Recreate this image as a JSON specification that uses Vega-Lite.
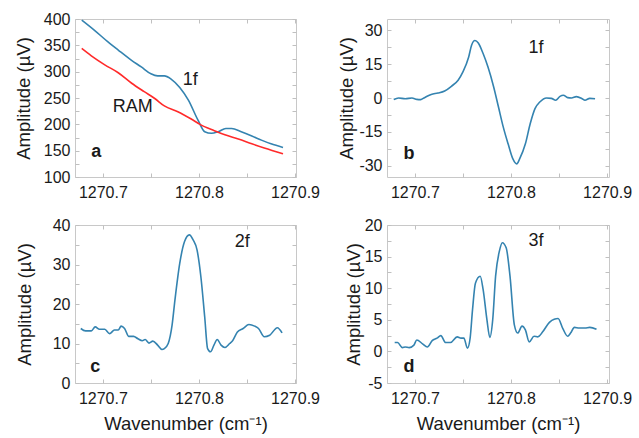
{
  "$schema": "https://vega.github.io/schema/vega-lite/v6.json",
  "padding": {"left": 13, "top": 10, "right": 5, "bottom": 5},
  "background": "white",
  "config": {
    "view": {"stroke": "#c8c8c8", "strokeWidth": 1},
    "axis": {"domain": false, "grid": false, "tickColor": "#c0c0c0", "tickSize": -4, "tickWidth": 1,
      "labelFont": "Liberation Sans", "labelFontSize": 16, "labelColor": "#1a1a1a", "labelOverlap": false, "labelFlush": false,
      "titleFont": "Liberation Sans", "titleFontSize": 18.5, "titleFontWeight": "normal", "titleColor": "#1a1a1a"},
    "axisY": {"titlePadding": 10, "labelPadding": 9},
    "axisX": {"titlePadding": 8, "labelPadding": 11},
    "text": {"font": "Liberation Sans", "fontSize": 18, "color": "#1a1a1a"},
    "line": {"strokeWidth": 1.6, "interpolate": "monotone"}
  },
  "columns": 2,
  "spacing": {"row": 48, "column": 91},
  "bounds": "flush",
  "concat": [
      {"width": 221, "height": 158,
       "layer": [
        {"data": {"values": [
          {"s":"1f","x":1270.678,"y":398},{"s":"1f","x":1270.691,"y":379},{"s":"1f","x":1270.705,"y":357},{"s":"1f","x":1270.716,"y":341},{"s":"1f","x":1270.7295,"y":322},{"s":"1f","x":1270.740,"y":309},{"s":"1f","x":1270.750,"y":296},{"s":"1f","x":1270.757,"y":292},{"s":"1f","x":1270.764,"y":292},{"s":"1f","x":1270.771,"y":286},{"s":"1f","x":1270.780,"y":270},{"s":"1f","x":1270.789,"y":246},{"s":"1f","x":1270.799,"y":208},{"s":"1f","x":1270.806,"y":186},{"s":"1f","x":1270.813,"y":183},{"s":"1f","x":1270.820,"y":186},{"s":"1f","x":1270.828,"y":192},{"s":"1f","x":1270.834,"y":192},{"s":"1f","x":1270.844,"y":186},{"s":"1f","x":1270.855,"y":178},{"s":"1f","x":1270.865,"y":170},{"s":"1f","x":1270.875,"y":163},{"s":"1f","x":1270.8875,"y":156},
          {"s":"RAM","x":1270.678,"y":344},{"s":"RAM","x":1270.688,"y":330},{"s":"RAM","x":1270.702,"y":313},{"s":"RAM","x":1270.716,"y":298},{"s":"RAM","x":1270.730,"y":278},{"s":"RAM","x":1270.743,"y":262},{"s":"RAM","x":1270.754,"y":249},{"s":"RAM","x":1270.764,"y":235},{"s":"RAM","x":1270.778,"y":224},{"s":"RAM","x":1270.792,"y":210},{"s":"RAM","x":1270.802,"y":199},{"s":"RAM","x":1270.816,"y":188},{"s":"RAM","x":1270.827,"y":180},{"s":"RAM","x":1270.841,"y":172},{"s":"RAM","x":1270.855,"y":163},{"s":"RAM","x":1270.868,"y":155},{"s":"RAM","x":1270.8875,"y":144}
         ]},
         "mark": "line",
         "encoding": {
          "x": {"field": "x", "type": "quantitative", "scale": {"domain": [1270.671, 1270.901], "nice": false, "zero": false},
                "axis": {"values": [1270.7,1270.75,1270.8,1270.85,1270.9], "labelExpr": "abs(datum.value*10 - round(datum.value*10)) < 0.01 ? format(datum.value, '.1f') : ''", "title": null}},
          "y": {"field": "y", "type": "quantitative", "scale": {"domain": [100, 400], "nice": false, "zero": false},
                "axis": {"values": [100,125,150,175,200,225,250,275,300,325,350,375,400], "labelExpr": "datum.value % 50 == 0 ? toString(datum.value) : ''", "title": "Amplitude (µV)"}},
          "color": {"field": "s", "type": "nominal", "scale": {"domain": ["1f","RAM"], "range": ["#3483b0", "#ff2a2a"]}, "legend": null}
         }},
        {"data": {"values": [{"x":1270.791,"y":284,"t":"1f"},{"x":1270.731,"y":233,"t":"RAM"}]},
         "mark": {"type": "text", "baseline": "middle", "align": "center"},
         "encoding": {"x": {"field": "x", "type": "quantitative", "axis": {"orient": "top", "labels": false, "title": null, "values": [1270.7,1270.75,1270.8,1270.85,1270.9]}},
                      "y": {"field": "y", "type": "quantitative", "axis": {"orient": "right", "labels": false, "title": null, "values": [100,125,150,175,200,225,250,275,300,325,350,375,400]}},
                      "text": {"field": "t"}}},
        {"data": {"values": [{"x":1270.693,"y":147,"t":"a"}]},
         "mark": {"type": "text", "baseline": "middle", "align": "center", "fontWeight": "bold"},
         "encoding": {"x": {"field": "x", "type": "quantitative", "axis": null}, "y": {"field": "y", "type": "quantitative", "axis": null}, "text": {"field": "t"}}}
       ],
       "resolve": {"axis": {"x": "independent", "y": "independent"}}
      },
      {"width": 222, "height": 158,
       "layer": [
        {"data": {"values": [
          {"x":1270.678,"y":-0.7},{"x":1270.683,"y":0},{"x":1270.690,"y":-0.3},{"x":1270.697,"y":0},{"x":1270.702,"y":-0.6},{"x":1270.706,"y":-0.7},{"x":1270.710,"y":0.15},{"x":1270.717,"y":1.6},{"x":1270.724,"y":2.2},{"x":1270.731,"y":3.1},{"x":1270.738,"y":5.2},{"x":1270.745,"y":7.9},{"x":1270.750,"y":11.6},{"x":1270.756,"y":18.2},{"x":1270.759,"y":23.4},{"x":1270.7625,"y":25.5},{"x":1270.766,"y":24.4},{"x":1270.771,"y":19.7},{"x":1270.776,"y":13.8},{"x":1270.782,"y":4.9},{"x":1270.787,"y":-4.0},{"x":1270.792,"y":-12.9},{"x":1270.797,"y":-20.3},{"x":1270.802,"y":-27},{"x":1270.806,"y":-29.2},{"x":1270.809,"y":-27},{"x":1270.815,"y":-20.3},{"x":1270.820,"y":-11.4},{"x":1270.825,"y":-4.7},{"x":1270.830,"y":-1.8},{"x":1270.837,"y":0},{"x":1270.842,"y":-0.15},{"x":1270.8465,"y":-1.0},{"x":1270.851,"y":0.74},{"x":1270.8545,"y":1.2},{"x":1270.859,"y":0.15},{"x":1270.863,"y":0},{"x":1270.868,"y":0.6},{"x":1270.874,"y":-0.3},{"x":1270.877,"y":-1.0},{"x":1270.882,"y":-0.15},{"x":1270.8875,"y":-0.3}
         ]},
         "mark": {"type": "line", "color": "#3483b0"},
         "encoding": {
          "x": {"field": "x", "type": "quantitative", "scale": {"domain": [1270.671, 1270.902], "nice": false, "zero": false},
                "axis": {"values": [1270.7,1270.75,1270.8,1270.85,1270.9], "labelExpr": "abs(datum.value*10 - round(datum.value*10)) < 0.01 ? format(datum.value, '.1f') : ''", "title": null}},
          "y": {"field": "y", "type": "quantitative", "scale": {"domain": [-35, 35], "nice": false, "zero": false},
                "axis": {"values": [-30,-22.5,-15,-7.5,0,7.5,15,22.5,30], "labelExpr": "datum.value % 15 == 0 ? toString(datum.value) : ''", "title": "Amplitude (µV)", "titlePadding": 2}}
         }},
        {"data": {"values": [{"x":1270.826,"y":22,"t":"1f"}]},
         "mark": {"type": "text", "baseline": "middle", "align": "center"},
         "encoding": {"x": {"field": "x", "type": "quantitative", "axis": {"orient": "top", "labels": false, "title": null, "values": [1270.7,1270.75,1270.8,1270.85,1270.9]}},
                      "y": {"field": "y", "type": "quantitative", "axis": {"orient": "right", "labels": false, "title": null, "values": [-30,-22.5,-15,-7.5,0,7.5,15,22.5,30]}},
                      "text": {"field": "t"}}},
        {"data": {"values": [{"x":1270.694,"y":-25,"t":"b"}]},
         "mark": {"type": "text", "baseline": "middle", "align": "center", "fontWeight": "bold"},
         "encoding": {"x": {"field": "x", "type": "quantitative", "axis": null}, "y": {"field": "y", "type": "quantitative", "axis": null}, "text": {"field": "t"}}}
       ],
       "resolve": {"axis": {"x": "independent", "y": "independent"}}
      },
      {"width": 221, "height": 158,
       "layer": [
        {"data": {"values": [
          {"x":1270.677,"y":13.8},{"x":1270.682,"y":13.2},{"x":1270.688,"y":13.2},{"x":1270.692,"y":14.2},{"x":1270.6965,"y":13.6},{"x":1270.702,"y":13.6},{"x":1270.707,"y":12.5},{"x":1270.712,"y":13.4},{"x":1270.716,"y":13.4},{"x":1270.719,"y":14.4},{"x":1270.7226,"y":13.8},{"x":1270.727,"y":11.8},{"x":1270.732,"y":11.8},{"x":1270.7365,"y":11.2},{"x":1270.741,"y":10.7},{"x":1270.744,"y":11.0},{"x":1270.748,"y":10.1},{"x":1270.752,"y":10.6},{"x":1270.757,"y":9.6},{"x":1270.7615,"y":8.5},{"x":1270.764,"y":8.7},{"x":1270.768,"y":10.0},{"x":1270.772,"y":14.6},{"x":1270.775,"y":21.0},{"x":1270.780,"y":30.3},{"x":1270.785,"y":35.8},{"x":1270.790,"y":37.5},{"x":1270.794,"y":36.2},{"x":1270.798,"y":33.7},{"x":1270.802,"y":26.9},{"x":1270.806,"y":16.7},{"x":1270.809,"y":8.7},{"x":1270.812,"y":7.9},{"x":1270.8156,"y":9.6},{"x":1270.819,"y":11.0},{"x":1270.823,"y":9.6},{"x":1270.827,"y":9.0},{"x":1270.832,"y":10.0},{"x":1270.835,"y":10.7},{"x":1270.840,"y":12.9},{"x":1270.846,"y":13.8},{"x":1270.852,"y":14.8},{"x":1270.858,"y":14.4},{"x":1270.862,"y":13.8},{"x":1270.868,"y":11.7},{"x":1270.8736,"y":12.1},{"x":1270.8816,"y":14.0},{"x":1270.8865,"y":12.7}
         ]},
         "mark": {"type": "line", "color": "#3483b0"},
         "encoding": {
          "x": {"field": "x", "type": "quantitative", "scale": {"domain": [1270.671, 1270.901], "nice": false, "zero": false},
                "axis": {"values": [1270.7,1270.75,1270.8,1270.85,1270.9], "labelExpr": "abs(datum.value*10 - round(datum.value*10)) < 0.01 ? format(datum.value, '.1f') : ''", "title": "Wavenumber (cm⁻¹)"}},
          "y": {"field": "y", "type": "quantitative", "scale": {"domain": [0, 40], "nice": false, "zero": false},
                "axis": {"values": [0,5,10,15,20,25,30,35,40], "labelExpr": "datum.value % 10 == 0 ? toString(datum.value) : ''", "title": "Amplitude (µV)", "titlePadding": 18}}
         }},
        {"data": {"values": [{"x":1270.845,"y":35.7,"t":"2f"}]},
         "mark": {"type": "text", "baseline": "middle", "align": "center"},
         "encoding": {"x": {"field": "x", "type": "quantitative", "axis": {"orient": "top", "labels": false, "title": null, "values": [1270.7,1270.75,1270.8,1270.85,1270.9]}},
                      "y": {"field": "y", "type": "quantitative", "axis": {"orient": "right", "labels": false, "title": null, "values": [0,5,10,15,20,25,30,35,40]}},
                      "text": {"field": "t"}}},
        {"data": {"values": [{"x":1270.692,"y":4,"t":"c"}]},
         "mark": {"type": "text", "baseline": "middle", "align": "center", "fontWeight": "bold"},
         "encoding": {"x": {"field": "x", "type": "quantitative", "axis": null}, "y": {"field": "y", "type": "quantitative", "axis": null}, "text": {"field": "t"}}}
       ],
       "resolve": {"axis": {"x": "independent", "y": "independent"}}
      },
      {"width": 222, "height": 158,
       "layer": [
        {"data": {"values": [
          {"x":1270.679,"y":1.4},{"x":1270.682,"y":1.4},{"x":1270.687,"y":0.6},{"x":1270.690,"y":0.7},{"x":1270.694,"y":0.6},{"x":1270.699,"y":1.0},{"x":1270.702,"y":1.8},{"x":1270.708,"y":1.2},{"x":1270.713,"y":0.7},{"x":1270.718,"y":1.7},{"x":1270.723,"y":2.1},{"x":1270.727,"y":2.5},{"x":1270.732,"y":1.4},{"x":1270.737,"y":1.4},{"x":1270.744,"y":2.3},{"x":1270.748,"y":2.1},{"x":1270.751,"y":2.1},{"x":1270.7547,"y":0.5},{"x":1270.7575,"y":2.1},{"x":1270.760,"y":6.6},{"x":1270.763,"y":10.8},{"x":1270.768,"y":11.9},{"x":1270.771,"y":9.8},{"x":1270.775,"y":5.0},{"x":1270.778,"y":2.2},{"x":1270.781,"y":5.0},{"x":1270.784,"y":11.9},{"x":1270.788,"y":15.9},{"x":1270.791,"y":17.2},{"x":1270.795,"y":16.4},{"x":1270.799,"y":11.9},{"x":1270.8035,"y":4.2},{"x":1270.807,"y":2.9},{"x":1270.8115,"y":4.0},{"x":1270.815,"y":3.4},{"x":1270.819,"y":1.5},{"x":1270.824,"y":2.4},{"x":1270.828,"y":2.3},{"x":1270.833,"y":3.1},{"x":1270.840,"y":4.6},{"x":1270.845,"y":5.1},{"x":1270.849,"y":5.2},{"x":1270.854,"y":3.6},{"x":1270.859,"y":2.4},{"x":1270.862,"y":2.9},{"x":1270.866,"y":3.8},{"x":1270.871,"y":3.7},{"x":1270.877,"y":3.7},{"x":1270.882,"y":3.8},{"x":1270.889,"y":3.5}
         ]},
         "mark": {"type": "line", "color": "#3483b0"},
         "encoding": {
          "x": {"field": "x", "type": "quantitative", "scale": {"domain": [1270.671, 1270.902], "nice": false, "zero": false},
                "axis": {"values": [1270.7,1270.75,1270.8,1270.85,1270.9], "labelExpr": "abs(datum.value*10 - round(datum.value*10)) < 0.01 ? format(datum.value, '.1f') : ''", "title": "Wavenumber (cm⁻¹)"}},
          "y": {"field": "y", "type": "quantitative", "scale": {"domain": [-5, 20], "nice": false, "zero": false},
                "axis": {"values": [-5,-2.5,0,2.5,5,7.5,10,12.5,15,17.5,20], "labelExpr": "datum.value % 5 == 0 ? toString(datum.value) : ''", "title": "Amplitude (µV)", "titlePadding": 1}}
         }},
        {"data": {"values": [{"x":1270.826,"y":17.5,"t":"3f"}]},
         "mark": {"type": "text", "baseline": "middle", "align": "center"},
         "encoding": {"x": {"field": "x", "type": "quantitative", "axis": {"orient": "top", "labels": false, "title": null, "values": [1270.7,1270.75,1270.8,1270.85,1270.9]}},
                      "y": {"field": "y", "type": "quantitative", "axis": {"orient": "right", "labels": false, "title": null, "values": [-5,-2.5,0,2.5,5,7.5,10,12.5,15,17.5,20]}},
                      "text": {"field": "t"}}},
        {"data": {"values": [{"x":1270.694,"y":-2.5,"t":"d"}]},
         "mark": {"type": "text", "baseline": "middle", "align": "center", "fontWeight": "bold"},
         "encoding": {"x": {"field": "x", "type": "quantitative", "axis": null}, "y": {"field": "y", "type": "quantitative", "axis": null}, "text": {"field": "t"}}}
       ],
       "resolve": {"axis": {"x": "independent", "y": "independent"}}
      }
  ]
}
